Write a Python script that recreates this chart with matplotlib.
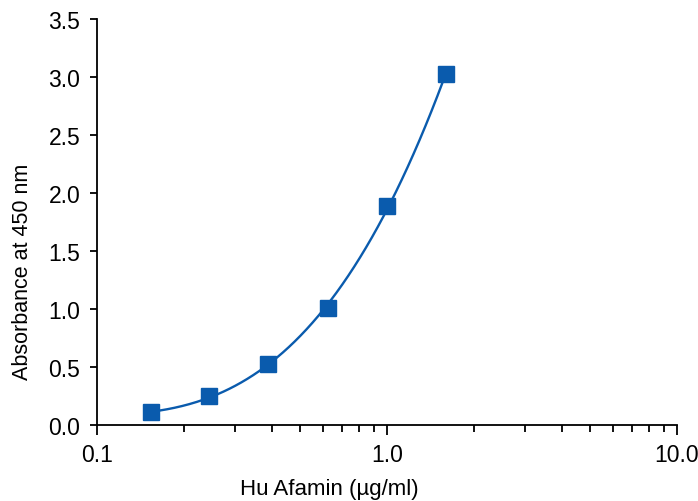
import numpy as np
import matplotlib
matplotlib.use("Agg")
import matplotlib.pyplot as plt
from matplotlib.ticker import FixedLocator, FixedFormatter, LogLocator, NullFormatter

# Standard curve readings
conc = [0.153, 0.244, 0.39, 0.625, 1.0, 1.6]       # Hu Afamin (ug/ml)
absorb = [0.11, 0.25, 0.53, 1.01, 1.89, 3.03]      # absorbance at 450 nm

x_ticks = [0.1, 1.0, 10.0]
x_tick_labels = ["0.1", "1.0", "10.0"]
y_ticks = [0.0, 0.5, 1.0, 1.5, 2.0, 2.5, 3.0, 3.5]
y_tick_labels = ["0.0", "0.5", "1.0", "1.5", "2.0", "2.5", "3.0", "3.5"]

blue = "#0A5BAD"

plt.rcParams['font.family'] = ['Liberation Sans', 'DejaVu Sans']

fig = plt.figure(figsize=(6.98, 5.02), dpi=100)
ax = fig.add_axes([0.139, 0.151, 0.831, 0.809])

# smooth trend through the standards (cubic in log10 concentration)
lx = np.log10(conc)
coef = np.polyfit(lx, absorb, 3)
xs = np.linspace(lx.min(), lx.max(), 200)
ax.plot(10 ** xs, np.polyval(coef, xs), color=blue, linewidth=1.7, zorder=2)
ax.plot(conc, absorb, linestyle='none', marker='s', markersize=11,
        color=blue, markeredgecolor=blue, zorder=3)

ax.set_xscale('log')
ax.set_xlim(0.1, 10.0)
ax.set_ylim(0.0, 3.5)
ax.xaxis.set_major_locator(FixedLocator(x_ticks))
ax.xaxis.set_major_formatter(FixedFormatter(x_tick_labels))
ax.xaxis.set_minor_locator(LogLocator(base=10, subs=np.arange(2, 10)))
ax.xaxis.set_minor_formatter(NullFormatter())
ax.yaxis.set_major_locator(FixedLocator(y_ticks))
ax.yaxis.set_major_formatter(FixedFormatter(y_tick_labels))

for s in ['top', 'right']:
    ax.spines[s].set_visible(False)
for s in ['left', 'bottom']:
    ax.spines[s].set_linewidth(1.3)

ax.tick_params(axis='x', which='major', length=7, width=1.3, labelsize=16.5, pad=6)
ax.tick_params(axis='x', which='minor', length=5, width=1.3)
ax.tick_params(axis='y', which='major', length=5, width=1.3, labelsize=16.5, pad=7)

ax.set_xlabel('Hu Afamin (µg/ml)', fontsize=16)
ax.set_ylabel('Absorbance at 450 nm', fontsize=15.5)
ax.xaxis.set_label_coords(0.40, -0.13)
ax.yaxis.set_label_coords(-0.11, 0.38)

fig.savefig('out.png', dpi=100)
